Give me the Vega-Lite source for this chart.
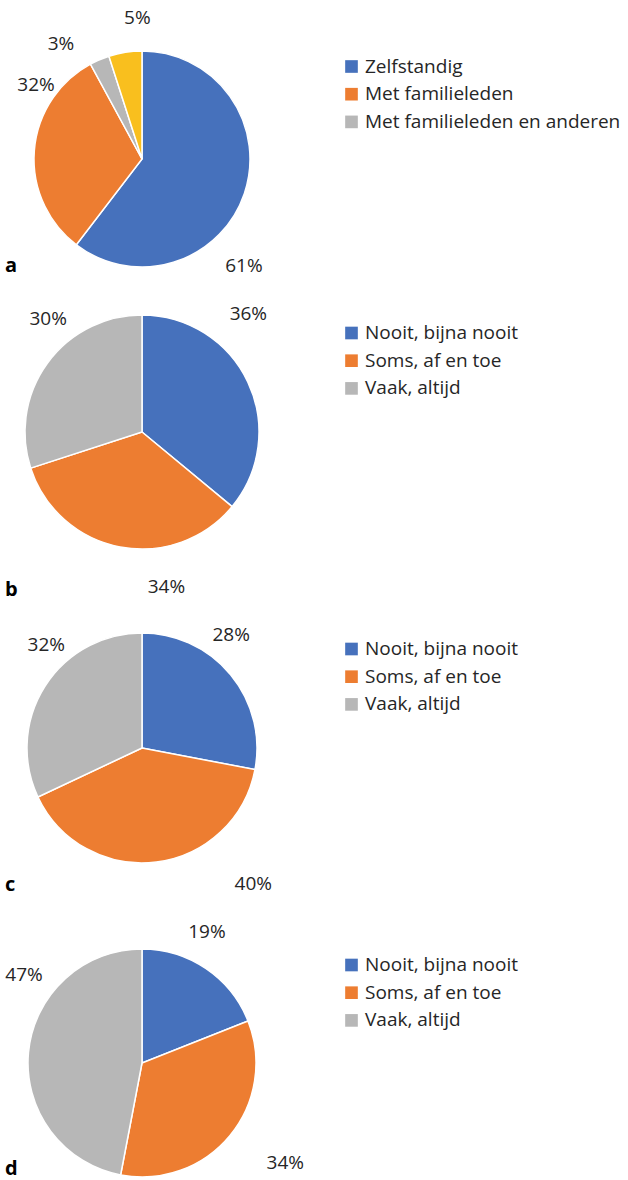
{
  "$schema": "https://vega.github.io/schema/vega-lite/v6.json",
  "padding": 0,
  "bounds": "flush",
  "spacing": 0,
  "config": {
    "view": {"stroke": null},
    "font": "Open Sans",
    "text": {"fontSize": 19, "font": "Open Sans", "color": "#262626"},
    "legend": {
      "orient": "none",
      "title": null,
      "symbolType": "square",
      "symbolSize": 160,
      "symbolStrokeWidth": 0,
      "labelFontSize": 19,
      "labelFont": "Open Sans",
      "labelColor": "#262626",
      "labelOffset": 4,
      "labelLimit": 400,
      "rowPadding": 7.7,
      "legendX": 342
    },
    "title": {"orient": "bottom", "anchor": "start", "fontSize": 20, "fontWeight": "bold", "font": "Open Sans", "color": "#000000", "frame": "group", "dx": 5}
  },
  "resolve": {"scale": {"color": "independent", "theta": "independent"}, "legend": {"color": "independent"}},
  "vconcat": [
    {
      "width": 284, "height": 318,
      "title": {"text": "a", "offset": -62, "baseline": "top"},
      "data": {"values": [
        {"cat": "Zelfstandig", "pct": 61, "label": "61%", "ord": 1},
        {"cat": "Met familieleden", "pct": 32, "label": "32%", "ord": 2},
        {"cat": "Met familieleden en anderen", "pct": 3, "label": "3%", "ord": 3},
        {"cat": "Overig", "pct": 5, "label": "5%", "ord": 4}
      ]},
      "encoding": {
        "theta": {"field": "pct", "type": "quantitative", "stack": true},
        "order": {"field": "ord", "type": "quantitative"}
      },
      "layer": [
        {"mark": {"type": "arc", "outerRadius": 108, "stroke": "white", "strokeWidth": 1.5},
         "encoding": {"color": {"field": "cat", "type": "nominal",
           "scale": {"domain": ["Zelfstandig", "Met familieleden", "Met familieleden en anderen", "Overig"], "range": ["#4671BC", "#ED7D31", "#B7B7B7", "#F9BF1E"]},
           "legend": {"legendY": 57, "values": ["Zelfstandig", "Met familieleden", "Met familieleden en anderen"]}}}},
        {"transform": [{"stack": "pct", "groupby": [], "sort": [{"field": "ord"}], "as": ["t0", "t1"]}, {"filter": "datum.ord == 1"}],
         "mark": {"type": "text", "radius": 147.5, "thetaOffset": 2.379},
         "encoding": {"theta": {"field": "t0", "type": "quantitative", "stack": null}, "text": {"field": "label", "type": "nominal"}}},
        {"transform": [{"stack": "pct", "groupby": [], "sort": [{"field": "ord"}], "as": ["t0", "t1"]}, {"filter": "datum.ord == 2"}],
         "mark": {"type": "text", "radius": 129.5, "thetaOffset": 1.530},
         "encoding": {"theta": {"field": "t0", "type": "quantitative", "stack": null}, "text": {"field": "label", "type": "nominal"}}},
        {"transform": [{"stack": "pct", "groupby": [], "sort": [{"field": "ord"}], "as": ["t0", "t1"]}, {"filter": "datum.ord == 3"}],
         "mark": {"type": "text", "radius": 141, "thetaOffset": -0.115},
         "encoding": {"theta": {"field": "t0", "type": "quantitative", "stack": null}, "text": {"field": "label", "type": "nominal"}}},
        {"transform": [{"stack": "pct", "groupby": [], "sort": [{"field": "ord"}], "as": ["t0", "t1"]}, {"filter": "datum.ord == 4"}],
         "mark": {"type": "text", "radius": 141, "thetaOffset": 0.278},
         "encoding": {"theta": {"field": "t0", "type": "quantitative", "stack": null}, "text": {"field": "label", "type": "nominal"}}}
      ]
    },
    {
      "width": 284, "height": 228,
      "title": {"text": "b", "offset": -17, "baseline": "top"},
      "data": {"values": [
        {"cat": "Nooit, bijna nooit", "pct": 36, "label": "36%", "ord": 1},
        {"cat": "Soms, af en toe", "pct": 34, "label": "34%", "ord": 2},
        {"cat": "Vaak, altijd", "pct": 30, "label": "30%", "ord": 3}
      ]},
      "encoding": {
        "theta": {"field": "pct", "type": "quantitative", "stack": true},
        "order": {"field": "ord", "type": "quantitative"}
      },
      "layer": [
        {"mark": {"type": "arc", "outerRadius": 117, "stroke": "white", "strokeWidth": 1.5},
         "encoding": {"color": {"field": "cat", "type": "nominal",
           "scale": {"domain": ["Nooit, bijna nooit", "Soms, af en toe", "Vaak, altijd"], "range": ["#4671BC", "#ED7D31", "#B7B7B7"]},
           "legend": {"legendY": 5.5}}}},
        {"transform": [{"stack": "pct", "groupby": [], "sort": [{"field": "ord"}], "as": ["t0", "t1"]}, {"filter": "datum.ord == 1"}],
         "mark": {"type": "text", "radius": 158.6, "thetaOffset": 0.735},
         "encoding": {"theta": {"field": "t0", "type": "quantitative", "stack": null}, "text": {"field": "label", "type": "nominal"}}},
        {"transform": [{"stack": "pct", "groupby": [], "sort": [{"field": "ord"}], "as": ["t0", "t1"]}, {"filter": "datum.ord == 2"}],
         "mark": {"type": "text", "radius": 157.2, "thetaOffset": 0.724},
         "encoding": {"theta": {"field": "t0", "type": "quantitative", "stack": null}, "text": {"field": "label", "type": "nominal"}}},
        {"transform": [{"stack": "pct", "groupby": [], "sort": [{"field": "ord"}], "as": ["t0", "t1"]}, {"filter": "datum.ord == 3"}],
         "mark": {"type": "text", "radius": 146.8, "thetaOffset": 1.192},
         "encoding": {"theta": {"field": "t0", "type": "quantitative", "stack": null}, "text": {"field": "label", "type": "nominal"}}}
      ]
    },
    {
      "width": 284, "height": 404,
      "title": {"text": "c", "offset": -75, "baseline": "top"},
      "data": {"values": [
        {"cat": "Nooit, bijna nooit", "pct": 28, "label": "28%", "ord": 1},
        {"cat": "Soms, af en toe", "pct": 40, "label": "40%", "ord": 2},
        {"cat": "Vaak, altijd", "pct": 32, "label": "32%", "ord": 3}
      ]},
      "encoding": {
        "theta": {"field": "pct", "type": "quantitative", "stack": true},
        "order": {"field": "ord", "type": "quantitative"}
      },
      "layer": [
        {"mark": {"type": "arc", "outerRadius": 115, "stroke": "white", "strokeWidth": 1.5},
         "encoding": {"color": {"field": "cat", "type": "nominal",
           "scale": {"domain": ["Nooit, bijna nooit", "Soms, af en toe", "Vaak, altijd"], "range": ["#4671BC", "#ED7D31", "#B7B7B7"]},
           "legend": {"legendY": 93.5}}}},
        {"transform": [{"stack": "pct", "groupby": [], "sort": [{"field": "ord"}], "as": ["t0", "t1"]}, {"filter": "datum.ord == 1"}],
         "mark": {"type": "text", "radius": 143.9, "thetaOffset": 0.668},
         "encoding": {"theta": {"field": "t0", "type": "quantitative", "stack": null}, "text": {"field": "label", "type": "nominal"}}},
        {"transform": [{"stack": "pct", "groupby": [], "sort": [{"field": "ord"}], "as": ["t0", "t1"]}, {"filter": "datum.ord == 2"}],
         "mark": {"type": "text", "radius": 175.4, "thetaOffset": 0.695},
         "encoding": {"theta": {"field": "t0", "type": "quantitative", "stack": null}, "text": {"field": "label", "type": "nominal"}}},
        {"transform": [{"stack": "pct", "groupby": [], "sort": [{"field": "ord"}], "as": ["t0", "t1"]}, {"filter": "datum.ord == 3"}],
         "mark": {"type": "text", "radius": 140.6, "thetaOffset": 1.262},
         "encoding": {"theta": {"field": "t0", "type": "quantitative", "stack": null}, "text": {"field": "label", "type": "nominal"}}}
      ]
    },
    {
      "width": 284, "height": 226,
      "title": {"text": "d", "offset": -21, "baseline": "top"},
      "data": {"values": [
        {"cat": "Nooit, bijna nooit", "pct": 19, "label": "19%", "ord": 1},
        {"cat": "Soms, af en toe", "pct": 34, "label": "34%", "ord": 2},
        {"cat": "Vaak, altijd", "pct": 47, "label": "47%", "ord": 3}
      ]},
      "encoding": {
        "theta": {"field": "pct", "type": "quantitative", "stack": true},
        "order": {"field": "ord", "type": "quantitative"}
      },
      "layer": [
        {"mark": {"type": "arc", "outerRadius": 114, "stroke": "white", "strokeWidth": 1.5},
         "encoding": {"color": {"field": "cat", "type": "nominal",
           "scale": {"domain": ["Nooit, bijna nooit", "Soms, af en toe", "Vaak, altijd"], "range": ["#4671BC", "#ED7D31", "#B7B7B7"]},
           "legend": {"legendY": 5.5}}}},
        {"transform": [{"stack": "pct", "groupby": [], "sort": [{"field": "ord"}], "as": ["t0", "t1"]}, {"filter": "datum.ord == 1"}],
         "mark": {"type": "text", "radius": 146, "thetaOffset": 0.461},
         "encoding": {"theta": {"field": "t0", "type": "quantitative", "stack": null}, "text": {"field": "label", "type": "nominal"}}},
        {"transform": [{"stack": "pct", "groupby": [], "sort": [{"field": "ord"}], "as": ["t0", "t1"]}, {"filter": "datum.ord == 2"}],
         "mark": {"type": "text", "radius": 175, "thetaOffset": 0.988},
         "encoding": {"theta": {"field": "t0", "type": "quantitative", "stack": null}, "text": {"field": "label", "type": "nominal"}}},
        {"transform": [{"stack": "pct", "groupby": [], "sort": [{"field": "ord"}], "as": ["t0", "t1"]}, {"filter": "datum.ord == 3"}],
         "mark": {"type": "text", "radius": 146.9, "thetaOffset": 2.021},
         "encoding": {"theta": {"field": "t0", "type": "quantitative", "stack": null}, "text": {"field": "label", "type": "nominal"}}}
      ]
    }
  ]
}
